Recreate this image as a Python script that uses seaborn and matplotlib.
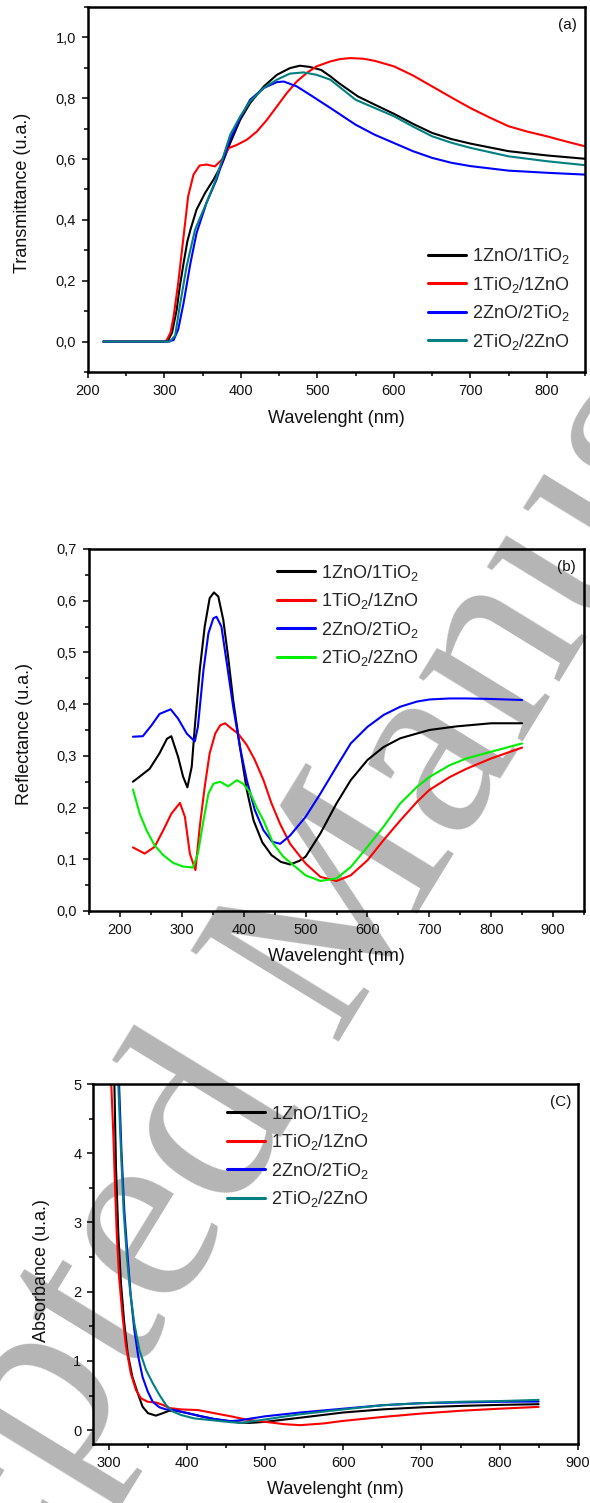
import numpy as np
import pandas as pd
import matplotlib
matplotlib.use("Agg")
import matplotlib.pyplot as plt
import seaborn as sns
from matplotlib.ticker import MultipleLocator, FuncFormatter

# ---------------- data ----------------
labels = ["1ZnO/1TiO$_2$", "1TiO$_2$/1ZnO", "2ZnO/2TiO$_2$", "2TiO$_2$/2ZnO"]

# (a) Transmittance  (black, red, blue, teal)
a_black_w = [220, 300, 305, 310, 316, 320, 325, 330, 334, 342, 353, 364, 375, 386, 399, 412, 430, 447, 464, 477, 490, 505, 517, 528, 553, 575, 600, 625, 650, 675, 700, 750, 800, 850]
a_black_v = [0, 0, 0.005, 0.03, 0.105, 0.18, 0.258, 0.33, 0.368, 0.434, 0.488, 0.532, 0.582, 0.653, 0.729, 0.784, 0.839, 0.877, 0.899, 0.907, 0.903, 0.893, 0.872, 0.85, 0.806, 0.779, 0.749, 0.716, 0.686, 0.666, 0.651, 0.626, 0.612, 0.601]
a_red_w = [220, 300, 303, 308, 312, 318, 325, 331, 338, 346, 355, 366, 375, 384, 395, 408, 421, 434, 447, 460, 473, 486, 499, 517, 530, 543, 560, 575, 600, 625, 650, 675, 700, 725, 750, 775, 800, 825, 850]
a_red_v = [0, 0, 0.005, 0.03, 0.083, 0.193, 0.346, 0.478, 0.549, 0.579, 0.582, 0.576, 0.598, 0.636, 0.647, 0.664, 0.691, 0.729, 0.773, 0.817, 0.855, 0.883, 0.905, 0.921, 0.929, 0.932, 0.93, 0.923, 0.905, 0.875, 0.839, 0.803, 0.768, 0.737, 0.708, 0.69, 0.675, 0.658, 0.642]
a_blue_w = [220, 305, 312, 318, 325, 334, 342, 355, 368, 377, 386, 399, 412, 430, 447, 456, 473, 490, 517, 550, 575, 600, 625, 650, 675, 700, 750, 800, 850]
a_blue_v = [0, 0, 0.005, 0.04, 0.127, 0.258, 0.357, 0.456, 0.532, 0.6, 0.665, 0.735, 0.795, 0.834, 0.853, 0.855, 0.839, 0.812, 0.768, 0.713, 0.68, 0.653, 0.626, 0.604, 0.588, 0.577, 0.562, 0.555, 0.549]
a_teal_w = [220, 307, 314, 320, 329, 340, 353, 366, 377, 386, 399, 412, 430, 447, 464, 482, 499, 517, 550, 575, 600, 625, 650, 675, 700, 750, 800, 850]
a_teal_v = [0, 0, 0.02, 0.116, 0.248, 0.368, 0.445, 0.525, 0.609, 0.68, 0.74, 0.79, 0.834, 0.861, 0.881, 0.885, 0.877, 0.861, 0.795, 0.768, 0.741, 0.707, 0.675, 0.654, 0.637, 0.609, 0.593, 0.58]

# (b) Reflectance  (black, red, blue, green)
b_black_w = [221, 232, 248, 264, 276, 283, 294, 302, 309, 316, 321, 329, 337, 345, 352, 359, 367, 375, 383, 394, 405, 416, 430, 445, 460, 475, 490, 500, 524, 550, 573, 600, 626, 653, 700, 744, 800, 850]
b_black_v = [0.25, 0.26, 0.275, 0.305, 0.333, 0.338, 0.298, 0.26, 0.239, 0.279, 0.356, 0.466, 0.55, 0.605, 0.616, 0.608, 0.563, 0.49, 0.408, 0.317, 0.234, 0.175, 0.133, 0.108, 0.095, 0.09, 0.097, 0.105, 0.15, 0.208, 0.253, 0.292, 0.317, 0.334, 0.35, 0.357, 0.363, 0.363]
b_red_w = [221, 240, 256, 270, 283, 297, 305, 313, 322, 329, 337, 345, 354, 362, 370, 380, 391, 405, 418, 432, 445, 459, 475, 500, 524, 550, 573, 600, 626, 653, 680, 700, 733, 760, 800, 850]
b_red_v = [0.123, 0.111, 0.124, 0.156, 0.188, 0.209, 0.182, 0.111, 0.079, 0.163, 0.24, 0.305, 0.343, 0.359, 0.363, 0.353, 0.343, 0.321, 0.292, 0.253, 0.208, 0.168, 0.13, 0.092, 0.066, 0.058, 0.069, 0.098, 0.137, 0.175, 0.211, 0.234, 0.259, 0.275, 0.295, 0.316]
b_blue_w = [221, 237, 251, 264, 282, 294, 308, 321, 326, 335, 343, 351, 356, 364, 372, 383, 394, 405, 418, 432, 446, 459, 475, 500, 524, 550, 573, 600, 626, 653, 680, 700, 733, 760, 800, 850]
b_blue_v = [0.337, 0.338, 0.359, 0.381, 0.39, 0.372, 0.343, 0.328, 0.356, 0.466, 0.537, 0.566, 0.569, 0.55, 0.485, 0.395, 0.317, 0.253, 0.195, 0.156, 0.134, 0.13, 0.146, 0.182, 0.227, 0.279, 0.324, 0.356, 0.379, 0.395, 0.405, 0.409, 0.411, 0.411, 0.41, 0.408]
b_green_w = [221, 232, 243, 256, 270, 286, 302, 318, 326, 335, 343, 351, 362, 375, 389, 399, 410, 421, 432, 448, 464, 481, 500, 524, 550, 573, 600, 626, 653, 680, 700, 733, 760, 800, 850]
b_green_v = [0.235, 0.188, 0.156, 0.127, 0.108, 0.093, 0.086, 0.084, 0.111, 0.175, 0.227, 0.246, 0.25, 0.241, 0.253, 0.246, 0.23, 0.2, 0.175, 0.13, 0.105, 0.088, 0.069, 0.058, 0.063, 0.085, 0.124, 0.163, 0.208, 0.24, 0.259, 0.282, 0.295, 0.308, 0.324]

# (c) Absorbance  (black, red, blue, teal)
c_black_w = [307, 309, 312, 315.4, 319.7, 324, 330, 337, 343, 350, 360, 369, 377, 386, 401, 418, 435, 466, 480, 500, 545, 600, 650, 700, 750, 800, 850]
c_black_v = [5.0, 3.8, 2.84, 2.12, 1.54, 1.11, 0.77, 0.53, 0.34, 0.245, 0.21, 0.245, 0.28, 0.28, 0.245, 0.2, 0.16, 0.11, 0.105, 0.12, 0.18, 0.255, 0.3, 0.33, 0.35, 0.365, 0.375]
c_red_w = [303, 305.6, 307.7, 310, 313, 317.5, 321.8, 328, 334.6, 341, 349.6, 360, 369, 377, 392, 414, 435, 456, 477, 500, 525, 545, 574, 600, 650, 700, 750, 800, 850]
c_red_v = [5.0, 4.28, 3.56, 2.84, 2.21, 1.64, 1.21, 0.82, 0.58, 0.46, 0.41, 0.40, 0.365, 0.32, 0.30, 0.29, 0.245, 0.2, 0.15, 0.12, 0.086, 0.072, 0.096, 0.134, 0.19, 0.24, 0.28, 0.31, 0.336]
c_blue_w = [313, 316, 319.7, 324, 328, 332.5, 337.6, 343, 349.6, 356, 364.6, 373, 384, 401, 418, 435, 456, 466, 500, 545, 600, 650, 700, 750, 800, 850]
c_blue_v = [5.0, 4.04, 3.17, 2.5, 1.93, 1.45, 1.06, 0.77, 0.56, 0.41, 0.33, 0.30, 0.29, 0.245, 0.2, 0.16, 0.13, 0.14, 0.2, 0.255, 0.31, 0.36, 0.39, 0.4, 0.41, 0.413]
c_teal_w = [312, 315.4, 318.8, 323, 327, 332.5, 338.9, 347.5, 356, 364.6, 373, 381.7, 392, 409, 435, 456, 470, 500, 545, 600, 650, 700, 750, 800, 850]
c_teal_v = [5.0, 4.04, 3.17, 2.5, 2.02, 1.54, 1.16, 0.87, 0.68, 0.51, 0.365, 0.27, 0.22, 0.17, 0.14, 0.115, 0.105, 0.155, 0.23, 0.3, 0.36, 0.39, 0.41, 0.42, 0.437]

colors_ac = ["#000000", "#ff0000", "#0000ff", "#008080"]
colors_b = ["#000000", "#ff0000", "#0000ff", "#00ee00"]

# ---------------- style ----------------
sns.set_theme(style="ticks")
plt.rcParams["font.family"] = ["Liberation Sans", "DejaVu Sans"]
plt.rcParams["mathtext.fontset"] = "custom"
plt.rcParams["mathtext.rm"] = "Liberation Sans"
plt.rcParams["mathtext.it"] = "Liberation Sans:italic"
plt.rcParams["mathtext.bf"] = "Liberation Sans:bold"

W, H = 590, 1503
fig = plt.figure(figsize=(W / 100, H / 100), dpi=100)


def axes_px(l, t, r, b):
    return fig.add_axes([l / W, 1 - b / H, (r - l) / W, (b - t) / H])


ax_a = axes_px(88, 7, 585, 372)
ax_b = axes_px(89, 549, 584, 911)
ax_c = axes_px(93.3, 1084, 577.7, 1444)

# watermark behind everything
fig.text(-0.377, -0.3026, "Accepted Manuscript", fontsize=191, color="#b5b5b5",
         family="Liberation Serif", rotation=58.5, rotation_mode="anchor",
         ha="left", va="baseline", zorder=-5)


def make_df(ws, vs):
    frames = []
    for lab, w, v in zip(labels, ws, vs):
        frames.append(pd.DataFrame({"Wavelength": w, "Value": v, "Sample": lab}))
    return pd.concat(frames, ignore_index=True)


def comma(v, pos, nd=1):
    if abs(v) < 1e-9:
        v = 0.0
    return f"{v:.{nd}f}".replace(".", ",")


def draw(ax, df, pal, xlim, ylim, xmaj, xmin, ymaj, ymin, yfmt, ylabel, tag,
         leg_xy, ylab_x, ylab_y):
    sns.lineplot(data=df, x="Wavelength", y="Value", hue="Sample", hue_order=labels,
                 palette=dict(zip(labels, pal)), estimator=None, linewidth=1.5,
                 ax=ax, legend=True)
    ax.set_xlim(*xlim)
    ax.set_ylim(*ylim)
    ax.xaxis.set_major_locator(MultipleLocator(xmaj))
    ax.xaxis.set_minor_locator(MultipleLocator(xmin))
    ax.yaxis.set_major_locator(MultipleLocator(ymaj))
    ax.yaxis.set_minor_locator(MultipleLocator(ymin))
    ax.yaxis.set_major_formatter(FuncFormatter(yfmt))
    ax.tick_params(which="both", direction="out", top=False, right=False,
                   width=1.1, color="black", pad=4)
    ax.tick_params(which="major", length=4.5, labelsize=10.5, labelcolor="#111111")
    ax.tick_params(which="minor", length=2.6)
    for s in ax.spines.values():
        s.set_visible(True)
        s.set_linewidth(1.8)
        s.set_color("black")
    ax.patch.set_alpha(0)
    ax.set_xlabel("Wavelenght (nm)", fontsize=13, color="#111111")
    ax.set_ylabel(ylabel, fontsize=13, color="#111111")
    ax.xaxis.label.set_verticalalignment("center")
    ax.xaxis.set_label_coords(0.5, -0.127)
    ax.yaxis.label.set_verticalalignment("center")
    ax.yaxis.set_label_coords(ylab_x, ylab_y)
    ax.text(0.965, 0.951, tag, transform=ax.transAxes, fontsize=11,
            ha="center", va="center", color="#111111")
    handles, labs = ax.get_legend_handles_labels()
    for h in handles:
        h.set_linewidth(2.2)
    ax.legend(handles, labs, loc="upper left", bbox_to_anchor=leg_xy, frameon=False,
              fontsize=13, handlelength=2.1, handletextpad=0.35, labelspacing=0.47,
              borderpad=0, borderaxespad=0)


df_a = make_df([a_black_w, a_red_w, a_blue_w, a_teal_w], [a_black_v, a_red_v, a_blue_v, a_teal_v])
df_b = make_df([b_black_w, b_red_w, b_blue_w, b_green_w], [b_black_v, b_red_v, b_blue_v, b_green_v])
df_c = make_df([c_black_w, c_red_w, c_blue_w, c_teal_w], [c_black_v, c_red_v, c_blue_v, c_teal_v])

draw(ax_a, df_a, colors_ac, (200, 850), (-0.1, 1.1), 100, 50, 0.2, 0.1,
     lambda v, p: comma(v, p), "Transmittance (u.a.)", "(a)", (0.684, 0.345), -0.132, 0.49)
draw(ax_b, df_b, colors_b, (150, 950), (0.0, 0.7), 100, 50, 0.1, 0.05,
     lambda v, p: comma(v, p), "Reflectance (u.a.)", "(b)", (0.38, 0.962), -0.130, 0.49)
draw(ax_c, df_c, colors_ac, (280, 900), (-0.2, 5.0), 100, 50, 1, 0.5,
     lambda v, p: f"{int(round(v))}", "Absorbance (u.a.)", "(C)", (0.276, 0.945), -0.106, 0.483)

fig.savefig("out.png", dpi=100)
